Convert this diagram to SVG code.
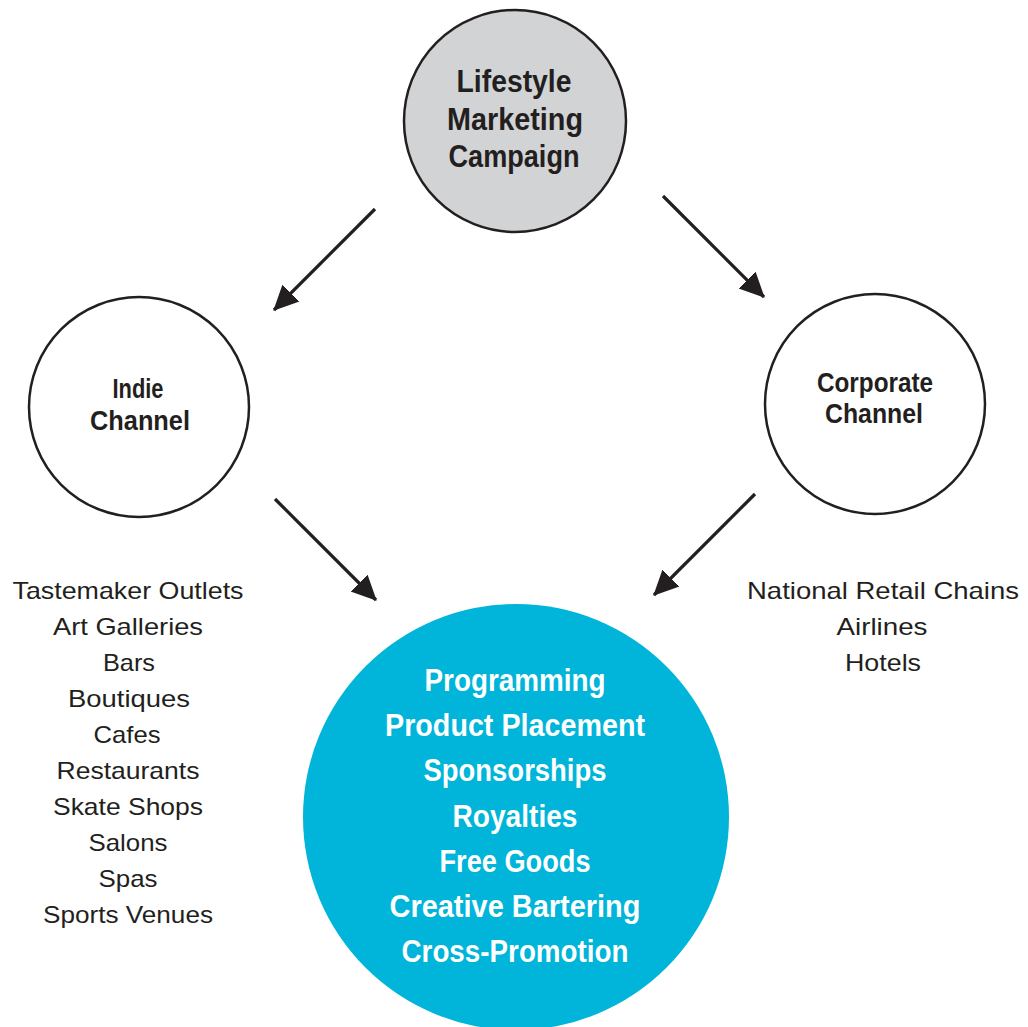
<svg xmlns="http://www.w3.org/2000/svg" width="1028" height="1027" viewBox="0 0 1028 1027">
<defs>
<style>
.c{stroke:#231f20;stroke-width:2.5}
.b{font-family:"Liberation Sans Narrow","Liberation Sans",Arial,sans-serif;font-weight:bold;text-anchor:middle;fill:#231f20}
.w{font-family:"Liberation Sans Narrow","Liberation Sans",Arial,sans-serif;font-weight:bold;text-anchor:middle;fill:#ffffff;font-size:31px}
.r{font-family:"Liberation Sans Narrow","Liberation Sans",Arial,sans-serif;text-anchor:middle;fill:#231f20;font-size:24px}
.a{stroke:#231f20;stroke-width:3.2;fill:none;marker-end:url(#ah)}
</style>
<marker id="ah" markerUnits="userSpaceOnUse" markerWidth="26" markerHeight="26" refX="24" refY="12" orient="auto" viewBox="0 0 26 24">
<path d="M0,0 L25,12 L0,24 z" fill="#231f20"/>
</marker>
</defs>
<rect width="1028" height="1027" fill="#ffffff"/>
<g id="connectors">
<line class="a" x1="375" y1="209" x2="274" y2="310"/>
<line class="a" x1="663" y1="196" x2="764" y2="297"/>
<line class="a" x1="275" y1="499" x2="376" y2="600"/>
<line class="a" x1="755" y1="494" x2="654" y2="595"/>
</g>
<g id="lifestyle">
<circle class="c" cx="515" cy="121" r="111" fill="#d1d3d4"/>
<text class="b" font-size="32" x="514" y="92" textLength="115" lengthAdjust="spacingAndGlyphs">Lifestyle</text>
<text class="b" font-size="32" x="515" y="130" textLength="136" lengthAdjust="spacingAndGlyphs">Marketing</text>
<text class="b" font-size="32" x="514" y="167" textLength="131" lengthAdjust="spacingAndGlyphs">Campaign</text>
</g>
<g id="indie">
<circle class="c" cx="139" cy="407" r="110" fill="#ffffff"/>
<text class="b" font-size="28" x="138" y="398" textLength="51" lengthAdjust="spacingAndGlyphs">Indie</text>
<text class="b" font-size="28" x="140" y="430" textLength="100" lengthAdjust="spacingAndGlyphs">Channel</text>
</g>
<g id="corporate">
<circle class="c" cx="875" cy="404" r="110" fill="#ffffff"/>
<text class="b" font-size="27" x="875" y="392" textLength="116" lengthAdjust="spacingAndGlyphs">Corporate</text>
<text class="b" font-size="27" x="874" y="423" textLength="98" lengthAdjust="spacingAndGlyphs">Channel</text>
</g>
<g id="outlets">
<circle cx="516" cy="817" r="213" fill="#00b5d9"/>
<text class="w" x="515" y="691" textLength="181" lengthAdjust="spacingAndGlyphs">Programming</text>
<text class="w" x="515" y="736" textLength="260" lengthAdjust="spacingAndGlyphs">Product Placement</text>
<text class="w" x="515" y="781" textLength="183" lengthAdjust="spacingAndGlyphs">Sponsorships</text>
<text class="w" x="515" y="827" textLength="125" lengthAdjust="spacingAndGlyphs">Royalties</text>
<text class="w" x="515" y="872" textLength="151" lengthAdjust="spacingAndGlyphs">Free Goods</text>
<text class="w" x="515" y="917" textLength="251" lengthAdjust="spacingAndGlyphs">Creative Bartering</text>
<text class="w" x="515" y="962" textLength="227" lengthAdjust="spacingAndGlyphs">Cross-Promotion</text>
</g>
<g id="indie-list">
<text class="r" x="128" y="599" textLength="231" lengthAdjust="spacingAndGlyphs">Tastemaker Outlets</text>
<text class="r" x="128" y="635" textLength="150" lengthAdjust="spacingAndGlyphs">Art Galleries</text>
<text class="r" x="129" y="671" textLength="52" lengthAdjust="spacingAndGlyphs">Bars</text>
<text class="r" x="129" y="707" textLength="122" lengthAdjust="spacingAndGlyphs">Boutiques</text>
<text class="r" x="127" y="743" textLength="67" lengthAdjust="spacingAndGlyphs">Cafes</text>
<text class="r" x="128" y="779" textLength="143" lengthAdjust="spacingAndGlyphs">Restaurants</text>
<text class="r" x="128" y="815" textLength="150" lengthAdjust="spacingAndGlyphs">Skate Shops</text>
<text class="r" x="128" y="851" textLength="79" lengthAdjust="spacingAndGlyphs">Salons</text>
<text class="r" x="128" y="887" textLength="59" lengthAdjust="spacingAndGlyphs">Spas</text>
<text class="r" x="128" y="923" textLength="170" lengthAdjust="spacingAndGlyphs">Sports Venues</text>
</g>
<g id="corporate-list">
<text class="r" x="883" y="599" textLength="272" lengthAdjust="spacingAndGlyphs">National Retail Chains</text>
<text class="r" x="882" y="635" textLength="91" lengthAdjust="spacingAndGlyphs">Airlines</text>
<text class="r" x="883" y="671" textLength="76" lengthAdjust="spacingAndGlyphs">Hotels</text>
</g>
</svg>
